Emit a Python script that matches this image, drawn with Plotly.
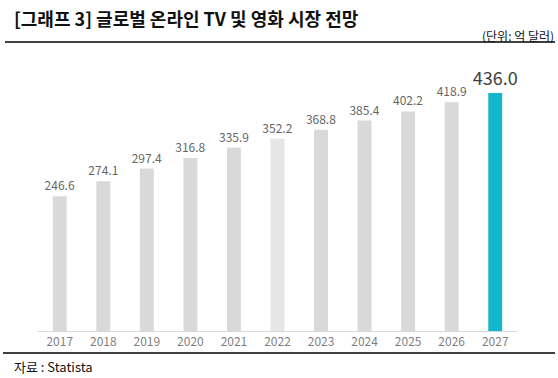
import plotly.graph_objects as go

years = ["2017", "2018", "2019", "2020", "2021", "2022", "2023", "2024", "2025", "2026", "2027"]
values = [246.6, 274.1, 297.4, 316.8, 335.9, 352.2, 368.8, 385.4, 402.2, 418.9, 436.0]
bar_colors = ["#d9d9d9"] * 5 + ["#e6e6e6"] + ["#d9d9d9"] * 4 + ["#12b6cd"]
label_sizes = [12] * 10 + [18]
label_colors = ["#666666"] * 10 + ["#404040"]

title_text = "[그래프 3] 글로벌 온라인 TV 및 영화 시장 전망"
unit_text = "(단위: 억 달러)"
source_text = "자료 : Statista"

FONT = "Noto Sans CJK KR"

fig = go.Figure(
    go.Bar(
        x=years,
        y=values,
        marker=dict(color=bar_colors, line=dict(width=0)),
        width=0.32,
        text=[f"{v:.1f}" for v in values],
        textposition="outside",
        constraintext="none",
        textfont=dict(size=label_sizes, color=label_colors, family=FONT),
        cliponaxis=False,
        hoverinfo="skip",
    )
)

W, H = 558, 378
L, R, T, B = 38, 41, 58, 47
pw, ph = W - L - R, H - T - B


def px_x(p):
    return (p - L) / pw


def px_y(p):
    return (H - B - p) / ph


fig.update_layout(
    width=W,
    height=H,
    margin=dict(l=L, r=R, t=T, b=B),
    paper_bgcolor="white",
    plot_bgcolor="white",
    showlegend=False,
    font=dict(family=FONT),
    xaxis=dict(
        type="category",
        range=[-0.5, 10.5],
        showgrid=False,
        showline=True,
        linecolor="#d9d9d9",
        linewidth=1,
        ticks="",
        tickfont=dict(size=12, color="#7f7f7f", family=FONT),
        fixedrange=True,
    ),
    yaxis=dict(
        range=[0, 500],
        visible=False,
        fixedrange=True,
    ),
    shapes=[
        dict(type="line", xref="paper", yref="paper", x0=px_x(5), x1=px_x(555),
             y0=px_y(42), y1=px_y(42), line=dict(color="#000000", width=1.5)),
        dict(type="line", xref="paper", yref="paper", x0=px_x(3), x1=px_x(555),
             y0=px_y(353), y1=px_y(353), line=dict(color="#000000", width=1.5)),
    ],
    annotations=[
        dict(text=title_text, xref="paper", yref="paper", x=px_x(12), y=px_y(18),
             xanchor="left", yanchor="middle", showarrow=False,
             font=dict(size=18, color="#111111", family=FONT, weight="bold")),
        dict(text=unit_text, xref="paper", yref="paper", x=px_x(556), y=px_y(35),
             xanchor="right", yanchor="middle", showarrow=False,
             font=dict(size=12, color="#111111", family=FONT)),
        dict(text=source_text, xref="paper", yref="paper", x=px_x(12), y=px_y(366),
             xanchor="left", yanchor="middle", showarrow=False,
             font=dict(size=13, color="#111111", family=FONT)),
    ],
)

fig.write_html(
    "out.html",
    config={"displayModeBar": False},
    post_script="document.body.style.margin='0';document.body.style.overflow='hidden';",
)
